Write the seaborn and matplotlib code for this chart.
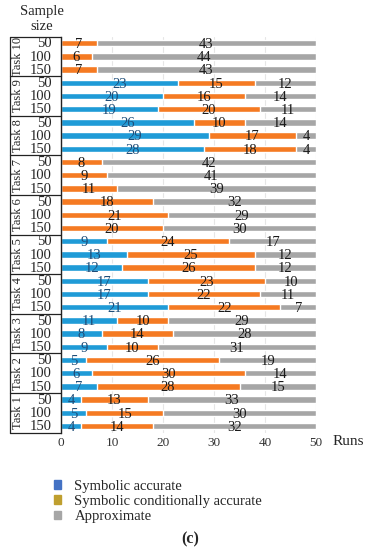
import numpy as np
import pandas as pd
import seaborn as sns
import matplotlib.pyplot as plt
from matplotlib.lines import Line2D
from matplotlib.patches import Patch

# data, top to bottom (Task 10 ... Task 1), sample sizes 50 / 100 / 150
tasks = ["Task 10", "Task 9", "Task 8", "Task 7", "Task 6",
         "Task 5", "Task 4", "Task 3", "Task 2", "Task 1"]
sizes = ["50", "100", "150"]
sym_accurate = [0, 0, 0, 23, 20, 19, 26, 29, 28, 0, 0, 0, 0, 0, 0,
                9, 13, 12, 17, 17, 21, 11, 8, 9, 5, 6, 7, 4, 5, 4]
sym_cond = [7, 6, 7, 15, 16, 20, 10, 17, 18, 8, 9, 11, 18, 21, 20,
            24, 25, 26, 23, 22, 22, 10, 14, 10, 26, 30, 28, 13, 15, 14]
approx = [43, 44, 43, 12, 14, 11, 14, 4, 4, 42, 41, 39, 32, 29, 30,
          17, 12, 12, 10, 11, 7, 29, 28, 31, 19, 14, 15, 33, 30, 32]

sns.set_theme(style="white")
plt.rcParams['font.family'] = ['Liberation Serif', 'DejaVu Serif']

rows = [f"{t}|{s}" for t in tasks for s in sizes]
df = pd.DataFrame({"row": rows, "sym": sym_accurate, "cond": sym_cond, "approx": approx})
df["c2"] = df["sym"] + df["cond"]
df["c3"] = df["c2"] + df["approx"]

c_blue = "#1F9BD7"
c_orange = "#F57A22"
c_gray = "#A6A6A6"

fig = plt.figure(figsize=(3.65, 5.5), dpi=100)
ax = fig.add_axes([0.167, 0.2135, 0.699, 0.72])

sns.barplot(data=df, x="c3", y="row", color=c_gray, width=0.48, ax=ax, saturation=1)
sns.barplot(data=df, x="c2", y="row", color=c_orange, width=0.48, ax=ax, saturation=1)
sns.barplot(data=df, x="sym", y="row", color=c_blue, width=0.48, ax=ax, saturation=1)

for i, r in df.iterrows():
    segs = [(0, r["sym"], "#1F4E79"), (r["sym"], r["cond"], "#1a1a1a"),
            (r["c2"], r["approx"], "#1a1a1a")]
    for start, w, col in segs:
        if w > 0:
            ax.text(start + w / 2, i + 0.1, str(int(w)), ha="center", va="center",
                    fontsize=10.5, color=col)

ax.set_xlim(0, 50)
ax.set_ylim(len(rows) - 0.5, -0.5)
ax.set_xticks(range(0, 51, 10))
ax.tick_params(axis="x", labelsize=9.5, colors="#333333", length=0, pad=3)
ax.set_yticks([])
ax.set_xlabel("")
ax.set_ylabel("")
ax.grid(axis="x", color="#E6E6E6", linewidth=0.8)
ax.set_axisbelow(True)
for s in ["top", "right", "bottom"]:
    ax.spines[s].set_visible(False)
ax.spines["left"].set_color("#222222")
ax.spines["left"].set_linewidth(1.0)

ax.text(1.065, -0.022, "Runs", transform=ax.transAxes, fontsize=11, va="center")

# left hand labels: sample size and task blocks
tr = ax.get_yaxis_transform()
x_box = -0.2
for i, s in enumerate(sizes * len(tasks)):
    ax.text(-0.035, i + 0.05, s, transform=tr, ha="right", va="center", fontsize=10.5, clip_on=False)
for k, t in enumerate(tasks):
    ax.text(-0.17, 3 * k + 1, t, transform=tr, ha="center", va="center",
            rotation=90, fontsize=9, clip_on=False)
for k in range(len(tasks) + 1):
    ax.add_line(Line2D([x_box, 0], [3 * k - 0.5] * 2, transform=tr, color="#222222",
                       linewidth=0.9, clip_on=False))
ax.add_line(Line2D([x_box, x_box], [-0.5, len(rows) - 0.5], transform=tr, color="#222222",
                   linewidth=0.9, clip_on=False))

fig.text(0.115, 0.99, "Sample\nsize", ha="center", va="top", fontsize=10.5, linespacing=1.15)

handles = [Patch(color="#4472C4"), Patch(color="#BF9F2F"), Patch(color=c_gray)]
labels = ["Symbolic accurate", "Symbolic conditionally accurate", "Approximate"]
fig.legend(handles, labels, loc="upper left", bbox_to_anchor=(0.148, 0.128),
           frameon=False, fontsize=10.5, handlelength=0.5, handleheight=0.5,
           handletextpad=0.9, labelspacing=0.15, borderaxespad=0, borderpad=0)

fig.text(0.52, 0.004, "(c)", ha="center", va="bottom", fontsize=11.5, fontweight="bold")

fig.savefig("out.png", dpi=100)
